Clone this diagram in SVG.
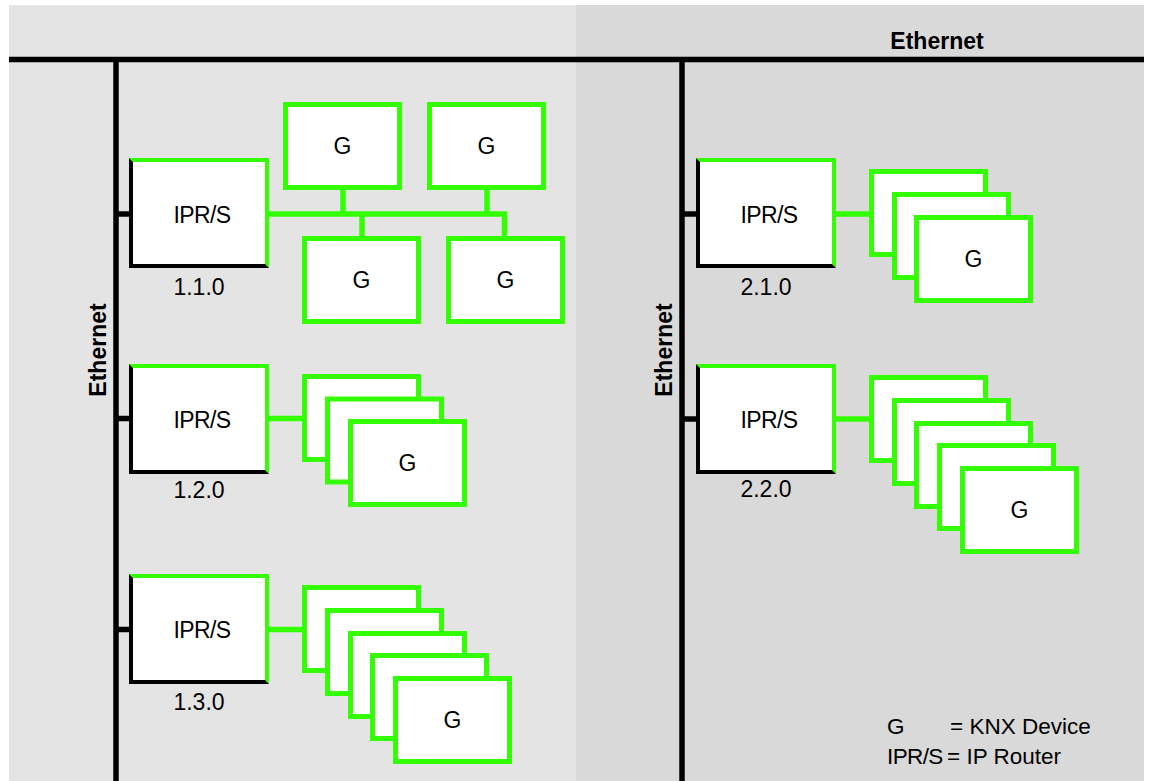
<svg xmlns="http://www.w3.org/2000/svg" xmlns:xlink="http://www.w3.org/1999/xlink" width="1151" height="781" viewBox="0 0 1151 781">
<style>
  .lbl { font-family: "Liberation Sans", Arial, sans-serif; font-size: 23px; fill: #000; text-anchor: middle; }
  .tight { letter-spacing: -0.6px; }
  .eth { font-family: "Liberation Sans", Arial, sans-serif; font-size: 23px; font-weight: bold; fill: #000; text-anchor: middle; }
  .leg { font-family: "Liberation Sans", Arial, sans-serif; font-size: 22.5px; fill: #000; }
  .gbox { fill: #fff; stroke: #33ff00; stroke-width: 5; }
  .bus { stroke: #000; stroke-width: 5.5; fill: none; }
  .knx { stroke: #33ff00; stroke-width: 5.5; fill: none; }
</style>
<defs>
  <g id="ipr">
    <rect x="0" y="0" width="140" height="110" fill="#fff"/>
    <polygon points="0,0 140,0 140,110 136,106 136,4 4,4" fill="#33ff00"/>
    <polygon points="0,0 4,4 4,106 136,106 140,110 0,110" fill="#000"/>
  </g>
  <rect id="g" x="2.5" y="2.5" width="114" height="83" class="gbox"/>
</defs>

<!-- background panels -->
<rect x="9" y="5" width="567" height="776" fill="#e4e4e4"/>
<rect x="576" y="5" width="568" height="776" fill="#d9d9d9"/>

<g id="connectors">
  <!-- Ethernet -->
  <line x1="9" y1="59.5" x2="1144" y2="59.5" class="bus"/>
  <line x1="116" y1="59.5" x2="116" y2="781" class="bus"/>
  <line x1="682" y1="59.5" x2="682" y2="781" class="bus"/>
  <line x1="116" y1="214" x2="130" y2="214" class="bus"/>
  <line x1="116" y1="418.5" x2="130" y2="418.5" class="bus"/>
  <line x1="116" y1="629.5" x2="130" y2="629.5" class="bus"/>
  <line x1="682" y1="214" x2="697" y2="214" class="bus"/>
  <line x1="682" y1="419" x2="697" y2="419" class="bus"/>
  <!-- KNX lines -->
  <path d="M268,214 H507.25 M343,187 V214 M487,187 V214 M362,214 V238 M504.5,211.25 V238" class="knx"/>
  <line x1="268" y1="418.5" x2="304" y2="418.5" class="knx"/>
  <line x1="268" y1="629.5" x2="304" y2="629.5" class="knx"/>
  <line x1="835" y1="214" x2="871" y2="214" class="knx"/>
  <line x1="835" y1="419" x2="871" y2="419" class="knx"/>
</g>

<text class="eth" x="937" y="49">Ethernet</text>
<text class="eth" transform="translate(106,350) rotate(-90)">Ethernet</text>
<text class="eth" transform="translate(672,350) rotate(-90)">Ethernet</text>

<!-- Line 1.1.0 -->
<g id="ipr-110">
  <use xlink:href="#ipr" x="129" y="158"/>
  <text class="lbl tight" x="202" y="223">IPR/S</text>
  <text class="lbl" x="199" y="295">1.1.0</text>
</g>
<g id="g-110-a"><use xlink:href="#g" x="283" y="102"/><text class="lbl" x="342.5" y="154">G</text></g>
<g id="g-110-b"><use xlink:href="#g" x="427" y="102"/><text class="lbl" x="486.5" y="154">G</text></g>
<g id="g-110-c"><use xlink:href="#g" x="302" y="236"/><text class="lbl" x="361.5" y="288">G</text></g>
<g id="g-110-d"><use xlink:href="#g" x="446" y="236"/><text class="lbl" x="505.5" y="288">G</text></g>

<!-- Line 1.2.0 -->
<g id="ipr-120">
  <use xlink:href="#ipr" x="129" y="364"/>
  <text class="lbl tight" x="202" y="428">IPR/S</text>
  <text class="lbl" x="199" y="498">1.2.0</text>
</g>
<g id="g-120">
  <use xlink:href="#g" x="302" y="374"/>
  <use xlink:href="#g" x="325" y="396.5"/>
  <use xlink:href="#g" x="348" y="419"/>
  <text class="lbl" x="407.5" y="471">G</text>
</g>

<!-- Line 1.3.0 -->
<g id="ipr-130">
  <use xlink:href="#ipr" x="129" y="574"/>
  <text class="lbl tight" x="202" y="638">IPR/S</text>
  <text class="lbl" x="199" y="710">1.3.0</text>
</g>
<g id="g-130">
  <use xlink:href="#g" x="302" y="585"/>
  <use xlink:href="#g" x="325" y="608"/>
  <use xlink:href="#g" x="348" y="631"/>
  <use xlink:href="#g" x="370" y="653"/>
  <use xlink:href="#g" x="393" y="676"/>
  <text class="lbl" x="452.5" y="728">G</text>
</g>

<!-- Line 2.1.0 -->
<g id="ipr-210">
  <use xlink:href="#ipr" x="696" y="158"/>
  <text class="lbl tight" x="769" y="223">IPR/S</text>
  <text class="lbl" x="766" y="295">2.1.0</text>
</g>
<g id="g-210">
  <use xlink:href="#g" x="869" y="169"/>
  <use xlink:href="#g" x="892" y="192"/>
  <use xlink:href="#g" x="914" y="215"/>
  <text class="lbl" x="973.5" y="267">G</text>
</g>

<!-- Line 2.2.0 -->
<g id="ipr-220">
  <use xlink:href="#ipr" x="696" y="364"/>
  <text class="lbl tight" x="769" y="428">IPR/S</text>
  <text class="lbl" x="766" y="497">2.2.0</text>
</g>
<g id="g-220">
  <use xlink:href="#g" x="869" y="375"/>
  <use xlink:href="#g" x="892" y="398"/>
  <use xlink:href="#g" x="914" y="421"/>
  <use xlink:href="#g" x="937" y="443"/>
  <use xlink:href="#g" x="960" y="466"/>
  <text class="lbl" x="1019.5" y="518">G</text>
</g>

<!-- Legend -->
<g id="legend">
  <text class="leg" x="887" y="734">G</text>
  <text class="leg" x="950" y="734">= KNX Device</text>
  <text class="leg tight" x="887" y="764">IPR/S</text>
  <text class="leg" x="947" y="764">= IP Router</text>
</g>
</svg>
